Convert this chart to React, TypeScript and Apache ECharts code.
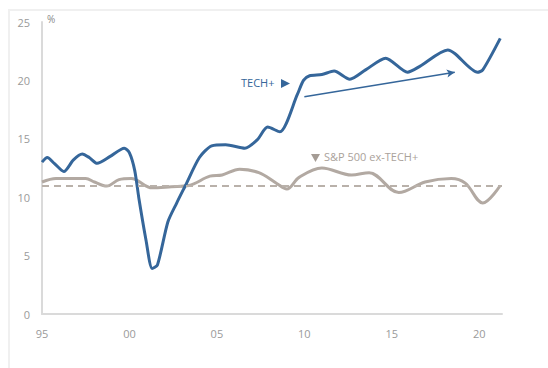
import React, { useEffect, useRef } from "react";
import * as echarts from "echarts";

const techYears = [1995.0, 1995.3, 1995.7, 1996.25, 1996.8, 1997.3, 1997.7, 1998.15, 1998.9, 1999.7, 2000.0, 2000.3, 2000.55, 2000.95, 2001.3, 2001.6, 2002.2, 2002.7, 2003.2, 2004.0, 2004.7, 2005.5, 2006.6, 2007.3, 2007.9, 2008.6, 2009.6, 2009.95, 2010.3, 2011.0, 2011.7, 2012.6, 2013.5, 2014.65, 2015.9, 2016.6, 2018.2, 2018.6, 2019.9, 2020.2, 2021.2];
const techValues = [13.0, 13.4, 12.9, 12.2, 13.2, 13.7, 13.4, 12.9, 13.5, 14.2, 13.8, 12.3, 9.8, 6.3, 3.9, 4.2, 7.9, 9.5, 11.0, 13.4, 14.4, 14.5, 14.2, 14.9, 16.0, 15.6, 18.8, 20.0, 20.4, 20.5, 20.8, 20.1, 20.9, 21.9, 20.7, 21.2, 22.6, 22.3, 20.7, 20.9, 23.6];

const exYears = [1995.0, 1995.8, 1997.5, 1998.0, 1998.7, 1999.4, 2000.1, 2001.3, 2002.4, 2003.4, 2004.6, 2005.3, 2006.3, 2007.4, 2008.4, 2009.0, 2009.7, 2011.0, 2012.7, 2013.7, 2015.4, 2016.9, 2018.4, 2019.2, 2020.2, 2021.2];
const exValues = [11.3, 11.6, 11.6, 11.3, 10.95, 11.5, 11.6, 10.8, 10.9, 11.0, 11.8, 11.9, 12.4, 12.1, 11.2, 10.7, 11.7, 12.5, 11.9, 12.1, 10.4, 11.3, 11.6, 11.2, 9.5, 11.0];

const averageLevel = 11.0;
const trendStart = [2010.0, 18.6];
const trendEnd = [2018.6, 20.7];

const xMin = 1995;
const xMax = 2021.3;
const yTicks = [0, 5, 10, 15, 20, 25];

const BLUE = "#35669a";
const GREY = "#b2a9a2";

export default function App() {
  const ref = useRef<HTMLDivElement>(null);
  useEffect(() => {
    if (!ref.current) return;
    const chart = echarts.init(ref.current, undefined, { renderer: "svg" });
    chart.setOption({
      animation: false,
      backgroundColor: "#ffffff",
      textStyle: { fontFamily: "Open Sans" },
      grid: { left: 42, right: 46, top: 22, bottom: 54 },
      xAxis: {
        type: "value",
        min: xMin,
        max: xMax,
        interval: 5,
        axisLine: { show: true, lineStyle: { color: "#dadada", width: 2 } },
        axisTick: { show: false },
        splitLine: { show: false },
        axisLabel: {
          color: "#9a9a9a",
          fontSize: 11,
          margin: 14,
          formatter: (v: number) => (Math.abs(v - Math.round(v)) < 1e-6 && Math.round(v) % 5 === 0 ? String(Math.round(v) % 100).padStart(2, "0") : ""),
        },
      },
      yAxis: {
        type: "value",
        min: yTicks[0],
        max: yTicks[yTicks.length - 1],
        interval: 5,
        axisLine: { show: true, lineStyle: { color: "#dadada", width: 2 } },
        axisTick: { show: false },
        splitLine: { show: false },
        axisLabel: { color: "#9a9a9a", fontSize: 11, margin: 12 },
      },
      graphic: [
        { type: "text", left: 47, top: 14, style: { text: "%", fill: "#8a8a8a", font: "10px 'Open Sans'" } },
        { type: "text", left: 241, top: 77, style: { text: "TECH+", fill: BLUE, font: "11px 'Open Sans'" } },
        { type: "polygon", shape: { points: [[281, 79], [281, 88], [290, 83.5]] }, style: { fill: BLUE } },
        { type: "polygon", shape: { points: [[311, 154], [320, 154], [315.5, 162]] }, style: { fill: "#a59c95" } },
        { type: "text", left: 324, top: 151, style: { text: "S&P 500 ex-TECH+", fill: "#aaa29b", font: "11px 'Open Sans'" } },
      ],
      series: [
        {
          type: "line",
          name: "S&P 500 ex-TECH+",
          data: exYears.map((y, i) => [y, exValues[i]]),
          smooth: 0.35,
          symbol: "none",
          lineStyle: { color: GREY, width: 3 },
          markLine: {
            silent: true,
            symbol: ["none", "none"],
            label: { show: false },
            lineStyle: { color: "#b9b1aa", width: 2, type: [7, 5] },
            data: [[{ coord: [xMin, averageLevel] }, { coord: [xMax, averageLevel] }]],
          },
          z: 2,
        },
        {
          type: "line",
          name: "TECH+",
          data: techYears.map((y, i) => [y, techValues[i]]),
          smooth: 0.25,
          symbol: "none",
          lineStyle: { color: BLUE, width: 3 },
          markLine: {
            silent: true,
            symbol: ["none", "arrow"],
            symbolSize: [6, 8],
            label: { show: false },
            lineStyle: { color: BLUE, width: 1.5, type: "solid" },
            data: [[{ coord: trendStart }, { coord: trendEnd }]],
          },
          z: 3,
        },
      ],
    });
    return () => chart.dispose();
  }, []);
  return (
    <div style={{ position: "fixed", left: 0, top: 0, width: 548, height: 368, background: "#fff" }}>
      <div ref={ref} style={{ position: "absolute", left: 0, top: 0, width: 548, height: 368 }} />
      <div style={{ position: "absolute", left: 8, top: 9, right: 0, bottom: 0, borderTop: "2px solid #f0f0f0", borderLeft: "2px solid #f0f0f0", pointerEvents: "none" }} />
    </div>
  );
}
